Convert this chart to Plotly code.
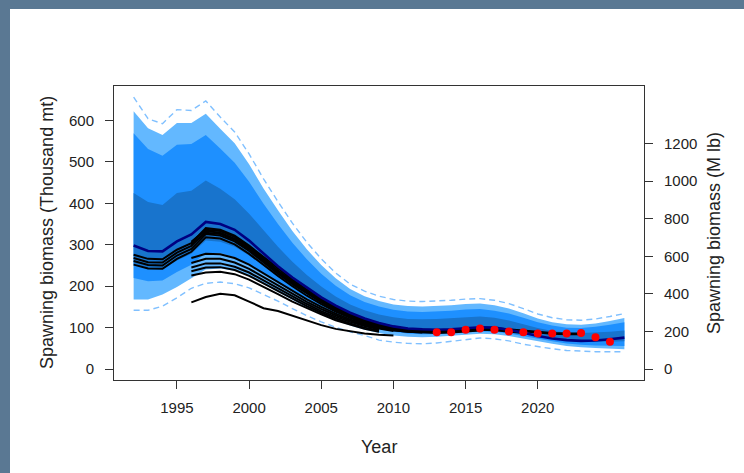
import plotly.graph_objects as go

# ---------------- data ----------------
years = list(range(1992, 2027))

upper_dashed = [656, 604, 592, 626, 624, 647, 608, 572, 519, 459, 404, 352, 306, 266, 232, 205, 188, 176,
                168, 164, 163, 164, 166, 169, 170, 166, 158, 146, 133, 124, 119, 118, 121, 127, 134]
outer_hi = [622, 581, 565, 594, 594, 616, 580, 545, 494, 436, 383, 333, 289, 251, 219, 193, 176, 164,
            156, 152, 151, 152, 154, 157, 158, 154, 146, 135, 122, 113, 108, 107, 110, 116, 123]
mid_hi = [569, 531, 515, 541, 543, 565, 532, 498, 452, 399, 350, 305, 265, 230, 201, 178, 162, 151,
          143, 139, 138, 139, 141, 144, 145, 141, 134, 124, 113, 105, 100, 99, 102, 107, 113]
inner_hi = [425, 403, 396, 425, 430, 455, 435, 410, 375, 334, 295, 259, 227, 199, 175, 156, 142, 132,
            125, 121, 120, 121, 123, 126, 127, 124, 117, 108, 99, 92, 88, 87, 88, 90, 93]
inner_lo = [252, 242, 241, 262, 278, 310, 307, 295, 274, 249, 224, 200, 178, 158, 140, 125, 113, 104,
            97, 93, 91, 91, 92, 95, 97, 96, 92, 86, 80, 74, 70, 67, 66, 66, 67]
mid_lo = [220, 212, 214, 234, 252, 280, 280, 270, 252, 230, 208, 187, 167, 149, 132, 118, 106, 97,
          90, 86, 84, 84, 86, 89, 91, 90, 86, 80, 73, 67, 62, 59, 57, 56, 56]
outer_lo = [168, 168, 180, 198, 218, 240, 243, 237, 224, 206, 187, 167, 148, 131, 117, 105, 95, 87,
            81, 78, 77, 78, 80, 83, 85, 84, 80, 74, 67, 61, 56, 53, 51, 49, 48]
lower_dashed = [142, 142, 152, 172, 195, 207, 210, 206, 196, 181, 164, 146, 129, 114, 101, 90, 81, 70,
                65, 62, 61, 63, 67, 72, 75, 73, 68, 60, 54, 49, 45, 43, 42, 42, 42]

base_model = [298, 285, 284, 308, 325, 355, 350, 336, 310, 278, 248, 221, 196, 173, 153, 136, 122, 111,
              103, 98, 96, 95, 96, 99, 101, 100, 95, 88, 80, 74, 70, 68, 69, 72, 76]

# other model runs: (first year, values)
run_a1 = (1992, [276, 266, 265, 288, 304, 340, 336, 322, 298, 270, 242, 216, 192, 170, 150, 134, 120, 110,
                 102, 97, 95, 94, 95, 98, 100, 99, 96, 92, 89, 87, 86, 86])
run_a2 = (1992, [268, 258, 257, 281, 297, 333, 329, 315, 291, 263, 236, 210, 186, 165, 146, 130, 117, 107,
                 99, 95, 93, 92, 93, 96, 98, 97, 94, 90, 87, 85, 84, 84])
run_a3 = (1992, [261, 251, 250, 274, 290, 326, 322, 308, 285, 257, 230, 205, 182, 161, 142, 127, 114, 104,
                 97, 92, 90, 89, 90, 93, 95, 94, 91, 87])
run_a4 = (1992, [252, 243, 242, 266, 283, 318, 315, 301, 278, 251, 225, 200, 177, 157, 139, 124, 111, 101,
                 94, 90, 88, 87, 88, 91, 93])
run_a5 = (1996, [307, 336, 333, 319, 295, 266, 238, 212, 188, 167, 148, 131, 118, 108, 100, 96, 94, 93, 94])
run_a6 = (1996, [300, 329, 326, 312, 289, 261, 234, 208, 185, 164, 145, 129, 116, 106, 99])
run_b1 = (1996, [268, 278, 277, 268, 252, 231, 209, 188, 168, 150, 134, 120, 109, 100, 94, 90, 88])
run_b2 = (1996, [256, 266, 266, 257, 242, 222, 201, 181, 162, 145, 130, 117, 106, 98, 92])
run_b3 = (1996, [245, 255, 255, 247, 233, 214, 194, 175, 157, 140, 126, 114, 104, 96])
run_b4 = (1996, [236, 245, 246, 239, 225, 207, 188, 169, 152, 136, 122, 110, 100, 93])
run_b5 = (1996, [226, 233, 235, 229, 216, 199, 181, 163, 147, 132, 118, 107, 97, 90])
run_low = (1996, [161, 174, 182, 178, 163, 147, 140, 129, 117, 106, 97, 91, 86, 83, 81])
other_runs = [run_a1, run_a2, run_a3, run_a4, run_a5, run_a6,
              run_b1, run_b2, run_b3, run_b4, run_b5, run_low]

survey_years = list(range(2013, 2026))
survey_values = [89, 89, 95, 98, 95, 91, 89, 86, 86, 86, 87, 77, 66]

x_ticks = [1995, 2000, 2005, 2010, 2015, 2020]
y_ticks = [0, 100, 200, 300, 400, 500, 600]
y2_ticks = [0, 200, 400, 600, 800, 1000, 1200]
MLB_PER_KT = 2.20462

# ---------------- styling / layout ----------------
W, H = 744, 473
ML, MR, MT, MB = 114, 100, 86, 93
PW, PH = W - ML - MR, H - MT - MB
FONT = "Liberation Sans, Arial, sans-serif"
XR = [1990.64, 2027.36]
YR = [-26.3, 683.0]

def px_x(p):
    return (p - ML) / PW

def px_y(p):
    return (H - MB - p) / PH

fig = go.Figure()

def band(hi, lo, color):
    fig.add_trace(go.Scatter(x=years + years[::-1], y=hi + lo[::-1], fill="toself",
                             fillcolor=color, line=dict(width=0), mode="lines",
                             hoverinfo="skip", showlegend=False))

band(outer_hi, outer_lo, "#63B8FF")
band(mid_hi, mid_lo, "#1E90FF")
band(inner_hi, inner_lo, "#1874CD")

for arr in (upper_dashed, lower_dashed):
    fig.add_trace(go.Scatter(x=years, y=arr, mode="lines",
                             line=dict(color="#80C0FF", width=1.4, dash="6px,4px"),
                             hoverinfo="skip", showlegend=False))

for start, vals in other_runs:
    xs = list(range(start, start + len(vals)))
    fig.add_trace(go.Scatter(x=xs, y=vals, mode="lines",
                             line=dict(color="black", width=2),
                             hoverinfo="skip", showlegend=False))

fig.add_trace(go.Scatter(x=years, y=base_model, mode="lines",
                         line=dict(color="#000080", width=2.6),
                         hoverinfo="skip", showlegend=False))

fig.add_trace(go.Scatter(x=survey_years, y=survey_values, mode="markers",
                         marker=dict(color="#FF0000", size=8, line=dict(width=0)),
                         hoverinfo="skip", showlegend=False))

# invisible trace so the right axis is drawn
fig.add_trace(go.Scatter(x=[years[0]], y=[0], yaxis="y2", mode="markers",
                         marker=dict(opacity=0), hoverinfo="skip", showlegend=False))

axis_common = dict(showgrid=False, zeroline=False, ticks="outside", ticklen=8,
                   tickcolor="#333333", tickwidth=1,
                   tickfont=dict(family=FONT, size=15, color="#222222"))

fig.update_layout(
    width=W, height=H,
    margin=dict(l=ML, r=MR, t=MT, b=MB, pad=0),
    paper_bgcolor="#5A7893",
    plot_bgcolor="white",
    hovermode=False,
    xaxis=dict(range=XR, tickvals=x_ticks, showline=True, linecolor="#333333",
               linewidth=1, mirror=True, ticklabelstandoff=6, **axis_common),
    yaxis=dict(range=YR, tickvals=y_ticks, showline=True, linecolor="#333333",
               linewidth=1, mirror=True, ticklabelstandoff=8, **axis_common),
    yaxis2=dict(range=[YR[0] * MLB_PER_KT, YR[1] * MLB_PER_KT], tickvals=y2_ticks,
                overlaying="y", side="right", showline=False, ticklabelstandoff=8,
                **axis_common),
    shapes=[dict(type="rect", xref="paper", yref="paper",
                 x0=px_x(10), x1=px_x(W + 5), y0=px_y(H + 5), y1=px_y(9),
                 fillcolor="white", line=dict(width=0), layer="below")],
    annotations=[
        dict(text="Spawning biomass (Thousand mt)", xref="paper", yref="paper",
             x=px_x(47), y=0.5, textangle=-90, showarrow=False,
             xanchor="center", yanchor="middle",
             font=dict(family=FONT, size=18, color="#222222")),
        dict(text="Spawning biomass (M lb)", xref="paper", yref="paper",
             x=px_x(714), y=0.5, textangle=-90, showarrow=False,
             xanchor="center", yanchor="middle",
             font=dict(family=FONT, size=18, color="#222222")),
        dict(text="Year", xref="paper", yref="paper",
             x=0.5, y=px_y(447), showarrow=False,
             xanchor="center", yanchor="middle",
             font=dict(family=FONT, size=18, color="#222222")),
    ],
)

fig.write_html("out.html",
               config={"displayModeBar": False, "staticPlot": True},
               post_script="document.body.style.margin='0';"
                           "document.body.style.overflow='hidden';")
